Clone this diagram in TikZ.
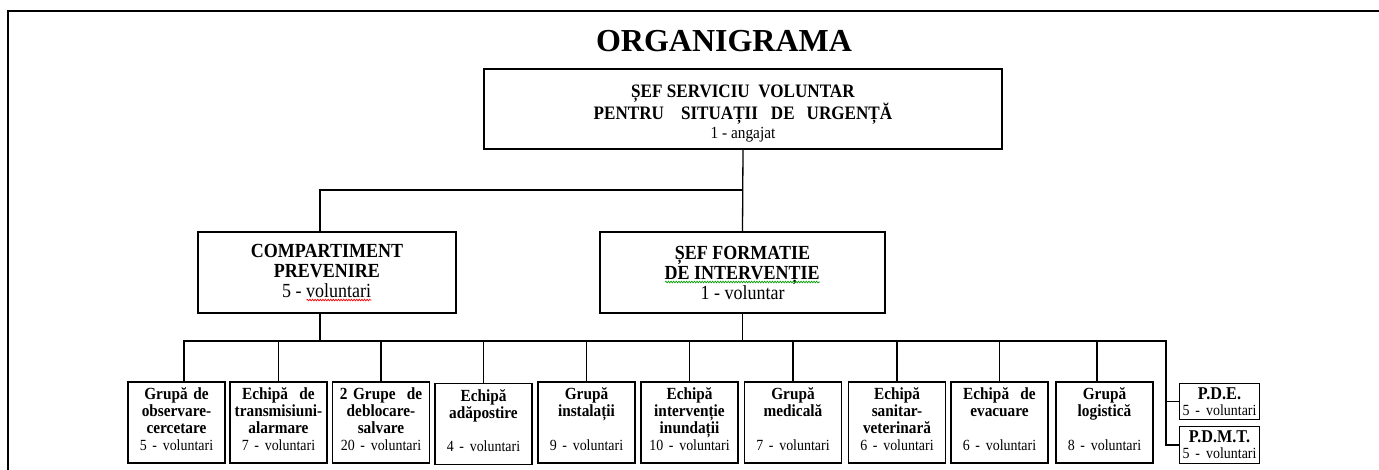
\documentclass[tikz,border=0pt]{standalone}
\usepackage{fontspec}
\setmainfont{Liberation Serif}
\newfontfamily\narrow[FakeStretch=0.9]{Liberation Serif}
\usetikzlibrary{decorations.pathmorphing}

\newlength\wavelen
\newcommand\spellwave[2]{\settowidth\wavelen{#2}\rlap{#2}\tikz[baseline=0pt]{\draw[#1, line width=0.7pt, decorate, decoration={snake, amplitude=0.8pt, segment length=2.6pt}] (0pt,-3pt) -- (\wavelen,-3pt);}}
\newcommand\vol[1]{{\mdseries\fontsize{15.5}{17}\selectfont #1}\rule[-7pt]{0pt}{7pt}}
\newcommand\lvol[1]{{\mdseries\fontsize{15.5}{17}\selectfont #1}\rule[-7pt]{0pt}{7pt}\hspace*{0pt plus 1filll}}
\newcommand\pvol[1]{{\mdseries\fontsize{15.5}{16}\selectfont #1}\hspace*{0pt plus 1filll}}

\tikzset{
	box/.style={draw, line width=1.3pt, align=center, inner sep=1pt},
	chief/.style={box, minimum width=518pt, minimum height=80pt, font=\narrow\fontsize{19}{21.5}\selectfont},
	dept/.style={box, minimum height=81pt, font=\narrow\fontsize{20}{20}\selectfont},
	team/.style={box, text width=95pt, minimum height=81pt, font=\narrow\bfseries\fontsize{17}{16.8}\selectfont},
	post/.style={box, text width=78pt, minimum height=36.5pt, font=\narrow\bfseries\fontsize{18}{16}\selectfont},
	link/.style={line width=1.3pt}
}

\begin{document}
\begin{tikzpicture}[x=1pt, y=-1pt]
	\useasboundingbox (0,0) rectangle (1379,470);
	\draw[line width=2.4pt] (8,470) -- (8,11) -- (1379,11);
	
	\node[font=\bfseries\fontsize{32}{32}\selectfont] (title) at (724,41) {ORGANIGRAMA};
	
	\node[chief] (sef) at (743,109) {\rule{0pt}{22pt}\textbf{ȘEF SERVICIU\ \ VOLUNTAR}\\ \textbf{PENTRU\hspace{17pt}SITUAȚII\hspace{13pt}DE\hspace{12pt}URGENȚĂ}\\[-2pt] {\fontsize{17}{21}\selectfont 1 - angajat}};
	
	\node[dept, minimum width=258pt] (comp) at (327,272.5) {\textbf{COMPARTIMENT}\\ \textbf{PREVENIRE}\\ 5 - \spellwave{red}{voluntari}};
	\node[dept, minimum width=285pt] (form) at (742.5,272.5) {\textbf{ȘEF FORMATIE}\\ \spellwave{green!60!black}{\textbf{DE INTERVENȚIE}}\\ 1 - voluntar};
	
	\node[team] (b1) at (176.5,422.5) {Grupă de\\ observare-\\ cercetare\\ \vol{5 - voluntari}};
	\node[team] (b2) at (278.5,422.5) {Echipă\ \ de\\ transmisiuni-\\ alarmare\\ \lvol{7 - voluntari}};
	\node[team] (b3) at (381,422.5) {2 Grupe\ \ de\\ deblocare-\\ salvare\\ \lvol{20 - voluntari}};
	\node[team] (b4) at (483.5,424) {Echipă\\ adăpostire\\ ~\\ \vol{4 - voluntari}};
	\node[team] (b5) at (586.5,422.5) {Grupă\\ instalații\\ ~\\ \vol{9 - voluntari}};
	\node[team] (b6) at (689.5,422.5) {Echipă\\ intervenție\\ inundații\\ \lvol{10 - voluntari}};
	\node[team] (b7) at (793,422.5) {Grupă\\ medicală\\ ~\\ \vol{7 - voluntari}};
	\node[team] (b8) at (897,422.5) {Echipă\\ sanitar-\\ veterinară\\ \vol{6 - voluntari}};
	\node[team] (b9) at (999.5,422.5) {Echipă\ \ de\\ evacuare\\ ~\\ \vol{6 - voluntari}};
	\node[team] (b10) at (1104.5,422.5) {Grupă\\ logistică\\ ~\\ \vol{8 - voluntari}};
	
	\node[post] (pde) at (1219.5,401.5) {P.D.E.\\ \pvol{5 - voluntari}};
	\node[post] (pdmt) at (1219.5,445) {P.D.M.T.\\ \pvol{5 - voluntari}};
	
	\coordinate (fork) at (743,190);
	\coordinate (bus) at (743,341);
	\coordinate (busend) at (1166,341);
	
	\draw[link] (sef.south) -- (form.north);
	\draw[link] (fork) -| ([xshift=-7pt]comp.north);
	\draw[link] ([xshift=-7pt]comp.south) -- ([xshift=-7pt]comp.south |- bus);
	\draw[link] (form.south) -- (form.south |- bus);
	\draw[link] ([xshift=7.5pt]b1.north) -- ([xshift=7.5pt]b1.north |- bus) -- (busend) |- (pdmt.west);
	\draw[link] (busend |- pde.west) -- (pde.west);
	\draw[link] ([xshift=-7.5pt]b10.north) -- ([xshift=-7.5pt]b10.north |- bus);
	\foreach \b in {b2,b3,b4,b5,b6,b7,b8,b9}
	{
	\draw[link] (\b.north) -- (\b.north |- bus);
	}
\end{tikzpicture}
\end{document}
